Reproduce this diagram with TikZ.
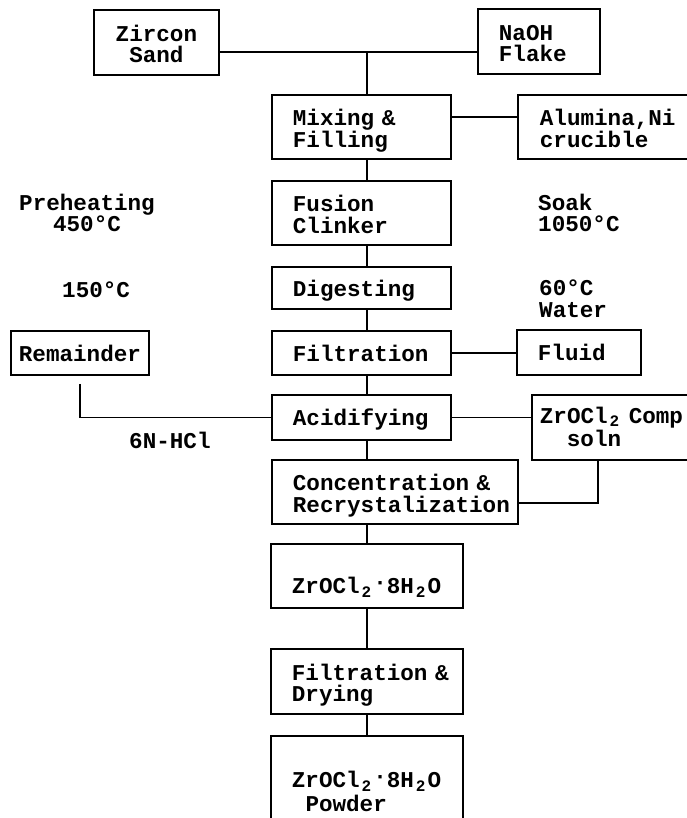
\documentclass[tikz,border=0pt]{standalone}
\usepackage{fontspec}
\setmonofont{Liberation Mono}
\newcommand{\chartFont}{\ttfamily\bfseries\fontsize{22.6}{21.5}\selectfont}
\newcommand{\subTwo}{\makebox[0.6em]{\raisebox{-0.3ex}{\fontsize{16}{16}\selectfont 2}}}
\newcommand{\midDot}{\raisebox{0.4ex}{·}}
\tikzset{
  procBox/.style={
    draw,
    line width=1.8pt,
    anchor=north west,
    align=left,
    inner xsep=21pt,
    inner ysep=0pt,
    minimum height=64pt,
    font=\chartFont
  },
  oneLine/.style={
    text height=17pt,
    text depth=0pt
  },
  twoLine/.style={
    text height=26pt,
    text depth=28pt
  },
  sideNote/.style={
    anchor=base west,
    inner sep=0pt,
    font=\chartFont
  },
  wire/.style={
    line width=1.8pt
  }
}

\begin{document}
\begin{tikzpicture}[x=1pt, y=-1pt]
  \useasboundingbox (0,0) rectangle (687,818);
  % main column
  \node[procBox, twoLine, align=center, text width=83pt, minimum height=65pt] (zircon) at (93,9) {Zircon\\Sand};
  \node[procBox, twoLine, text width=80pt, minimum height=65pt] (naoh) at (477,8) {NaOH\\Flake};
  \node[procBox, twoLine, text width=137pt] (mix) at (271,94) {Mixing~\&\\Filling};
  \node[procBox, twoLine, inner xsep=22pt, text width=146pt] (alumina) at (517,94) {Alumina,Ni\\crucible};
  \node[procBox, twoLine, text width=137pt] (fusion) at (271,180) {Fusion\\Clinker};
  \node[procBox, oneLine, text width=137pt, minimum height=42pt] (digest) at (271,266) {Digesting};
  \node[procBox, oneLine, text width=137pt, minimum height=44pt] (filt) at (271,330) {Filtration};
  \node[procBox, oneLine, text width=137pt, minimum height=45pt] (acid) at (271,394) {Acidifying};
  \node[procBox, twoLine, text width=204pt] (conc) at (271,459) {Concentration~\&\\Recrystalization};
  \node[procBox, oneLine, text width=150pt, text height=36pt] (zrSalt) at (270,543) {ZrOCl\subTwo\midDot 8H\subTwo O};
  \node[procBox, twoLine, text width=150pt, minimum height=65pt] (dry) at (270,648) {Filtration~\&\\Drying};
  \node[procBox, twoLine, text width=150pt, minimum height=106pt] (powder) at (270,735) {ZrOCl\subTwo\midDot 8H\subTwo O\\[2pt]\hspace*{13.6pt}Powder};
  % side boxes
  \node[procBox, oneLine, align=center, inner xsep=8pt, text width=122pt, minimum height=44pt] (rem) at (10,330) {Remainder};
  \node[procBox, oneLine, text width=82pt, minimum height=45pt] (fluid) at (516,329) {Fluid};
  \node[procBox, twoLine, text height=20pt, inner xsep=8pt, text width=180pt, minimum height=65pt] (zrComp) at (531,394) {ZrOCl\subTwo{} Comp\\[2pt]\hspace*{27pt}soln};
  % process conditions
  \node[sideNote, align=center] (preheat) at (19,232) {Preheating\\450°C};
  \node[sideNote, align=left] (soak) at (538,232) {Soak\\1050°C};
  \node[sideNote] (lowTemp) at (62,297) {150°C};
  \node[sideNote, align=left] (water) at (539,317) {60°C\\Water};
  \node[sideNote] (acidNote) at (129,448) {6N-HCl};
  % connectors
  \coordinate (topJ) at (367,52);
  \draw[wire] (zircon.east |- topJ) -- (naoh.west |- topJ);
  \draw[wire] (topJ) -- (topJ |- mix.north);
  \draw[wire] ([yshift=10pt]mix.east) -- ([yshift=10pt]alumina.west);
  \foreach \up/\dn in {mix/fusion, fusion/digest, digest/filt, filt/acid, acid/conc, conc/zrSalt, zrSalt/dry, dry/powder}
    \draw[wire] (\up.south -| topJ) -- (\dn.north -| topJ);
  \draw[wire] (filt.east) -- (filt.east -| fluid.west);
  \draw[wire] ([yshift=-8pt]rem.south) |- (acid.west);
  \draw[wire] (acid.east) -- (acid.east -| zrComp.west);
  \draw[wire] ([xshift=67pt]zrComp.south west) |- ([yshift=-11pt]conc.east);
\end{tikzpicture}
\end{document}
